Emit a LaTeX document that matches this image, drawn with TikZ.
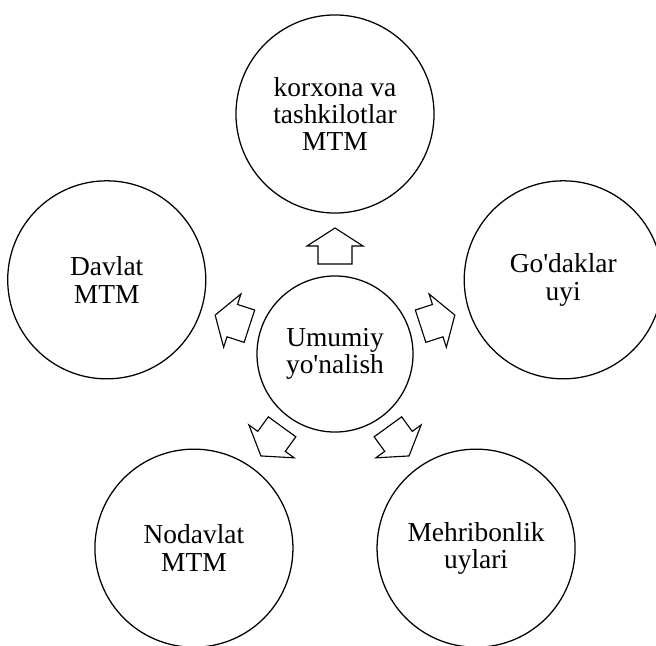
\documentclass[tikz,border=0pt]{standalone}
\usepackage{fontspec}
\setmainfont{Liberation Serif}
\tikzset{
  ring/.style={circle, draw, line width=0.9pt, align=center, inner sep=0pt,
    font=\fontsize{19.5}{19.5}\selectfont},
  outer/.style={ring, minimum size=4.95cm},
  hub/.style={ring, minimum size=3.9cm},
  blockarrow/.pic={
    \draw[line width=0.8pt, line join=miter]
      (-18,-17) -- (0,-17) -- (0,-28) -- (18,0) -- (0,28) -- (0,17) -- (-18,17) -- cycle;
  }
}
\begin{document}
\begin{tikzpicture}[x=0.025cm, y=0.025cm]
    \useasboundingbox (-335,-291) rectangle (321,354);

    \coordinate (O) at (0,0);
    \coordinate (T) at (90:240);
    \coordinate (L) at (162:240);
    \coordinate (BL) at (234:240);
    \coordinate (BR) at (306:240);
    \coordinate (R) at (18:240);

    \node[hub] (umumiy) at (O) {Umumiy\\yo\textquotesingle nalish};

    \node[outer] (korxona) at (T) {korxona va\\tashkilotlar\\MTM};
    \node[outer] (davlat) at (L) {Davlat\\MTM};
    \node[outer] (nodavlat) at (BL) {Nodavlat\\MTM};
    \node[outer] (mehr) at (BR) {Mehribonlik\\uylari};
    \node[outer] (godak) at (R) {Go\textquotesingle daklar\\uyi};

    \foreach \a in {90,162,234,306,18}
      \pic[rotate=\a] at (\a:108) {blockarrow};
  \end{tikzpicture}
\end{document}
